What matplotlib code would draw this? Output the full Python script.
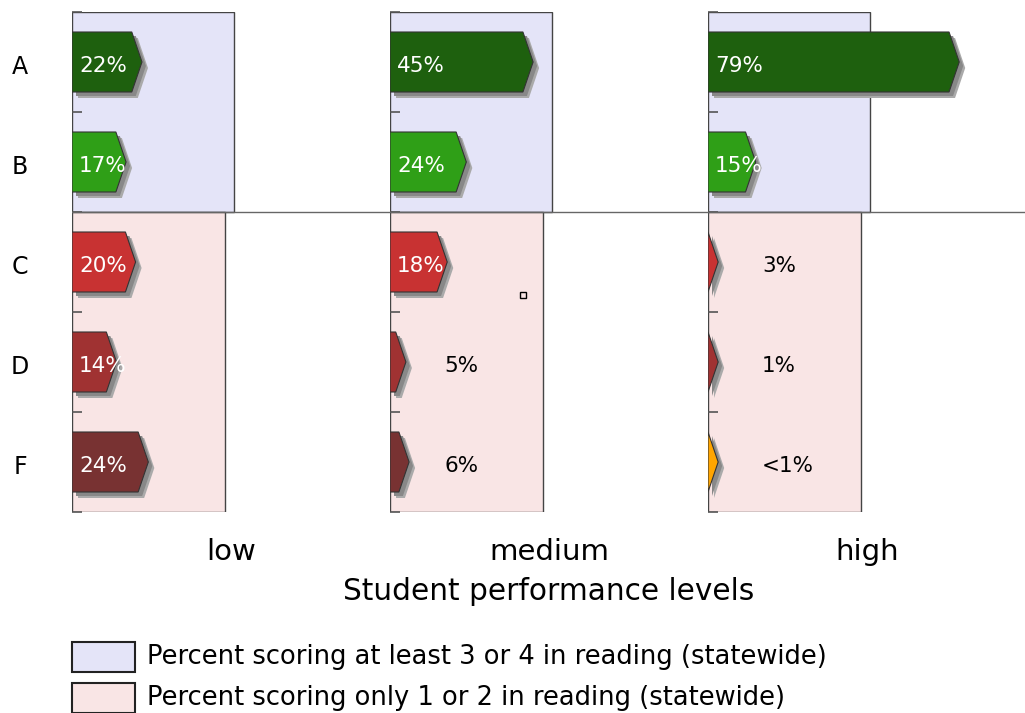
import matplotlib
matplotlib.use('Agg')
import matplotlib.pyplot as plt
from matplotlib.patches import Polygon, Rectangle

# data
rows = ['A', 'B', 'C', 'D', 'F']
levels = ['low', 'medium', 'high']
low_vals = [22, 17, 20, 14, 24]
medium_vals = [45, 24, 18, 5, 6]
high_vals = [79, 15, 3, 1, 0.5]
low_labels = ['22%', '17%', '20%', '14%', '24%']
medium_labels = ['45%', '24%', '18%', '5%', '6%']
high_labels = ['79%', '15%', '3%', '1%', '<1%']
statewide_high = 51   # percent scoring at least 3 or 4
statewide_low = 48    # percent scoring only 1 or 2

row_colors = ['#1e600e', '#2f9f17', '#c83232', '#a03232', '#783232']
high_colors = ['#1e600e', '#2f9f17', '#c83232', '#a03232', '#ffa500']

panels = [
    (low_vals, low_labels, row_colors),
    (medium_vals, medium_labels, row_colors),
    (high_vals, high_labels, high_colors),
]

W, H = 1025, 713
fig = plt.figure(figsize=(W / 100, H / 100), dpi=100)
plt.rcParams['font.family'] = ['DejaVu Sans']

TIP = 3.2      # arrow point length in percent units
BAR_H = 0.3    # half bar height in rows
PX_X = 100 / 318
PX_Y = 5 / 500
TXT_DY = 0.035  # text sits a little low in the original


def arrow_pts(y, v, dx=0.0, dy=0.0):
    L = max(v, TIP)
    b = L - TIP
    return [(0 + dx, y - BAR_H + dy), (b + dx, y - BAR_H + dy), (L + dx, y + dy),
            (b + dx, y + BAR_H + dy), (0 + dx, y + BAR_H + dy)]


axes = []
for i, (vals, labels, colors) in enumerate(panels):
    ax = fig.add_axes([(72 + 318 * i) / W, (H - 512) / H, 318 / W, 500 / H])
    ax.set_xlim(0, 100)
    ax.set_ylim(4.5, -0.5)
    ax.patch.set_alpha(0)
    for s in ax.spines.values():
        s.set_visible(False)
    ax.set_xticks([])
    ax.set_yticks([-0.5, 0.5, 1.5, 2.5, 3.5, 4.5])
    ax.set_yticklabels([])
    ax.tick_params(axis='y', direction='in', length=7, width=1.2, color='#555555')

    # statewide background boxes
    ax.add_patch(Rectangle((0, -0.5), statewide_high, 2, facecolor='#e4e4f8',
                           edgecolor='#444444', lw=1, zorder=1))
    ax.add_patch(Rectangle((0, 1.5), statewide_low, 3, facecolor='#f9e5e5',
                           edgecolor='#444444', lw=1, zorder=1))
    ax.axhline(1.5, color='#666666', lw=1, zorder=2)

    for r, (v, lab, c) in enumerate(zip(vals, labels, colors)):
        ax.add_patch(Polygon(arrow_pts(r, v, 6 * PX_X, 6 * PX_Y), closed=True,
                             facecolor='#aaaaaa', edgecolor='none', zorder=3))
        ax.add_patch(Polygon(arrow_pts(r, v, 4 * PX_X, 4 * PX_Y), closed=True,
                             facecolor='#888888', edgecolor='none', zorder=3))
        ax.add_patch(Polygon(arrow_pts(r, v), closed=True, facecolor=c,
                             edgecolor='#333333', lw=0.8, zorder=4))
        if v >= 10:
            ax.text(2.2, r + TXT_DY, lab, color='white', fontsize=15.5,
                    va='center', ha='left', zorder=5)
        else:
            ax.text(17, r + TXT_DY, lab, color='black', fontsize=15.5,
                    va='center', ha='left', zorder=5)

    ax.text(0.5, -40 / 500, levels[i], transform=ax.transAxes, ha='center',
            va='center', fontsize=21)
    axes.append(ax)

for r, name in enumerate(rows):
    axes[0].text(-52 / 318, r + 0.05, name, transform=axes[0].get_yaxis_transform(),
                 ha='center', va='center', fontsize=17)

# small stray marker seen in the reference
axes[1].plot([41.8], [2.33], marker='s', markersize=5, mfc='none', mec='black',
             mew=1, zorder=6)

fig.text(549 / W, (H - 592) / H, 'Student performance levels', ha='center',
         va='center', fontsize=21.3)

# legend
leg_items = [('#e4e4f8', 'Percent scoring at least 3 or 4 in reading (statewide)', 642),
             ('#f9e5e5', 'Percent scoring only 1 or 2 in reading (statewide)', 683)]
for fc, txt, top in leg_items:
    fig.patches.append(Rectangle((72 / W, (H - top - 30) / H), 63 / W, 30 / H,
                                 transform=fig.transFigure, facecolor=fc,
                                 edgecolor='#222222', lw=1.5))
    fig.text(147 / W, (H - top - 15) / H, txt, ha='left', va='center', fontsize=18.5)

fig.savefig('out.png', dpi=100)
